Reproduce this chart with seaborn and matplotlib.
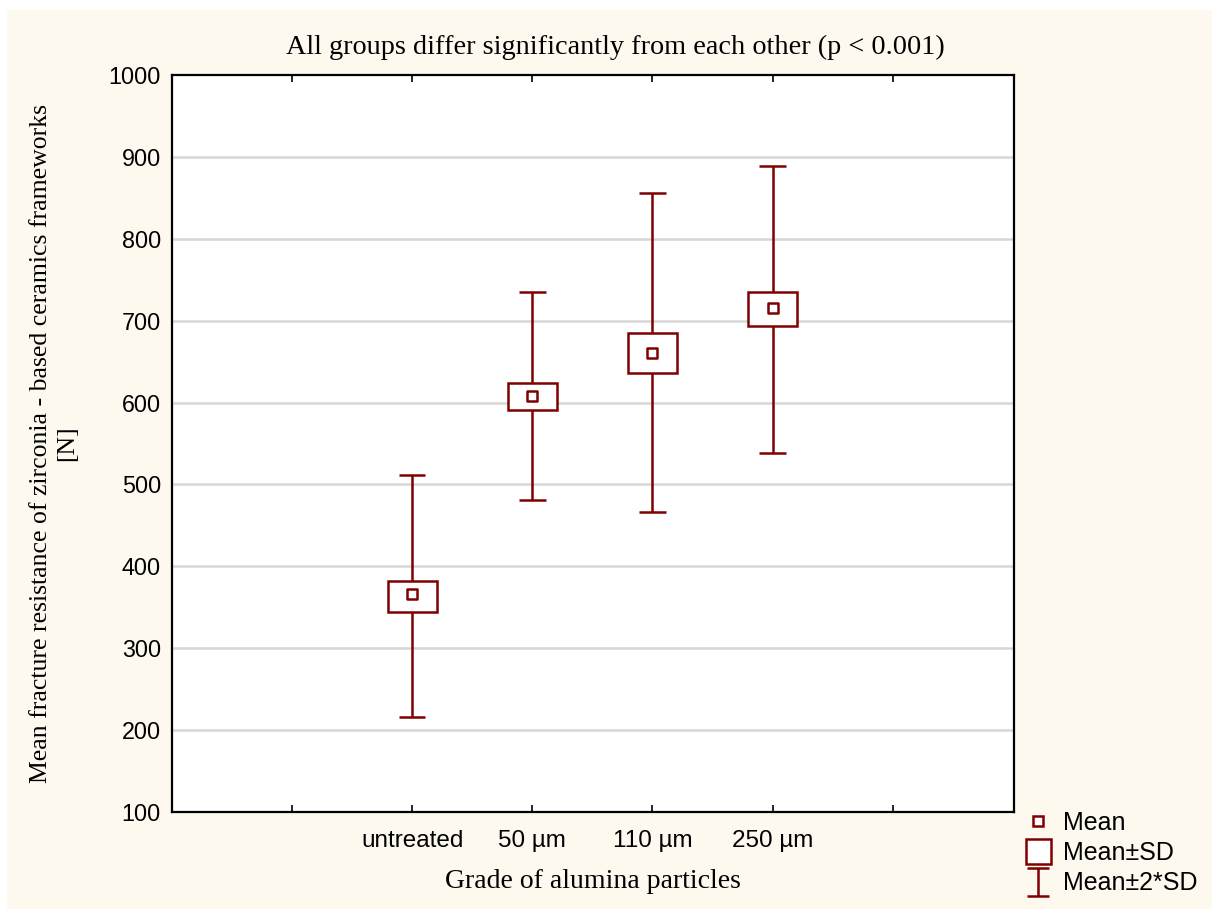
import numpy as np
import pandas as pd
import matplotlib
matplotlib.use("Agg")
import matplotlib.pyplot as plt
from matplotlib.patches import Rectangle
from matplotlib.lines import Line2D
from matplotlib.path import Path
import seaborn as sns

# ---- data ----
groups = ["untreated", "50 µm", "110 µm", "250 µm"]
means = [366, 608, 661, 716]
sd_low = [344, 591, 636, 693]
sd_high = [382, 624, 685, 735]
sd2_low = [216, 481, 466, 538]
sd2_high = [511, 735, 856, 889]
y_ticks = [100, 200, 300, 400, 500, 600, 700, 800, 900, 1000]

DARK = "#7f0000"
CREAM = "#fdf9ee"
SERIF = "Liberation Serif"
SANS = "Liberation Sans"

sns.set_style("white")
plt.rcParams["font.family"] = [SANS, "DejaVu Sans"]
plt.rcParams["text.color"] = "black"
plt.rcParams["axes.labelcolor"] = "black"

W, H = 1212, 909
fig = plt.figure(figsize=(W / 100, H / 100), dpi=100, facecolor="white")
fig.patches.append(Rectangle((7 / W, 0), 1 - 7 / W, 1 - 10 / H,
                             transform=fig.transFigure, facecolor=CREAM,
                             edgecolor="none", zorder=-10))

ax = fig.add_axes([172 / W, 1 - 812 / H, (1014 - 172) / W, (812 - 75) / H])
ax.set_facecolor("white")

pos = np.arange(1, len(groups) + 1)
df = pd.DataFrame({"pos": pos, "mean": means})

# grid
for v in y_ticks[1:-1]:
    ax.axhline(v, color="#d6d6d6", lw=1.8, zorder=0)

# whiskers (mean ± 2 SD)
ax.vlines(pos, sd2_low, sd2_high, color=DARK, lw=1.8, zorder=2)
cap = 0.11
ax.hlines(sd2_low, pos - cap, pos + cap, color=DARK, lw=1.8, zorder=2)
ax.hlines(sd2_high, pos - cap, pos + cap, color=DARK, lw=1.8, zorder=2)

# boxes (mean ± SD)
ax.bar(pos, np.array(sd_high) - np.array(sd_low), bottom=sd_low, width=0.41,
       facecolor="white", edgecolor=DARK, linewidth=1.8, zorder=3)

# means
sns.scatterplot(data=df, x="pos", y="mean", marker="s", s=60,
                facecolor="white", edgecolor=DARK, linewidth=1.8,
                ax=ax, zorder=4, legend=False)

ax.set_xlim(-1.0, 6.01)
ax.set_ylim(100, 1000)
ax.set_yticks(y_ticks)
ax.set_xticks(np.arange(0, 6))
ax.set_xticklabels([""] + groups + [""])
ax.tick_params(axis="x", direction="in", length=5, width=1.2, top=True,
               bottom=True, labelsize=17.5, pad=13, colors="black")
ax.tick_params(axis="y", length=0, labelsize=16.8, pad=8)
for lab in ax.get_xticklabels() + ax.get_yticklabels():
    lab.set_color("black")
for s in ax.spines.values():
    s.set_color("black")
    s.set_linewidth(1.6)

ax.set_xlabel("Grade of alumina particles", family=SERIF, fontsize=20)
ax.xaxis.set_label_coords(0.5, -0.078)
ax.set_ylabel("Mean fracture resistance of zirconia - based ceramics frameworks\n[N]",
              family=SERIF, fontsize=18.5, linespacing=1.2)
ax.yaxis.set_label_coords(-0.112, 0.5)

fig.text(615 / W, 1 - 47 / H,
         "All groups differ significantly from each other (p < 0.001)",
         family=SERIF, fontsize=20.3, ha="center", va="center")

# legend
ibeam = Path([(-0.8, 1), (0.8, 1), (0, 1), (0, -1), (-0.8, -1), (0.8, -1)],
             [Path.MOVETO, Path.LINETO, Path.MOVETO, Path.LINETO,
              Path.MOVETO, Path.LINETO])
handles = [
    Line2D([], [], ls="none", marker="s", ms=6.5, mfc="white", mec=DARK, mew=1.8),
    Line2D([], [], ls="none", marker="s", ms=18, mfc="white", mec=DARK, mew=1.8),
    Line2D([], [], ls="none", marker=ibeam, ms=19.5, mfc="none", mec=DARK, mew=1.8),
]
fig.legend(handles, ["Mean", "Mean±SD", "Mean±2*SD"], loc="center left",
           bbox_to_anchor=(1007 / W, 1 - 853 / H), frameon=False,
           fontsize=18, handlelength=1.1, handletextpad=0.45,
           labelspacing=0.25, borderpad=0.2)

fig.savefig("out.png", dpi=100, facecolor=fig.get_facecolor())
